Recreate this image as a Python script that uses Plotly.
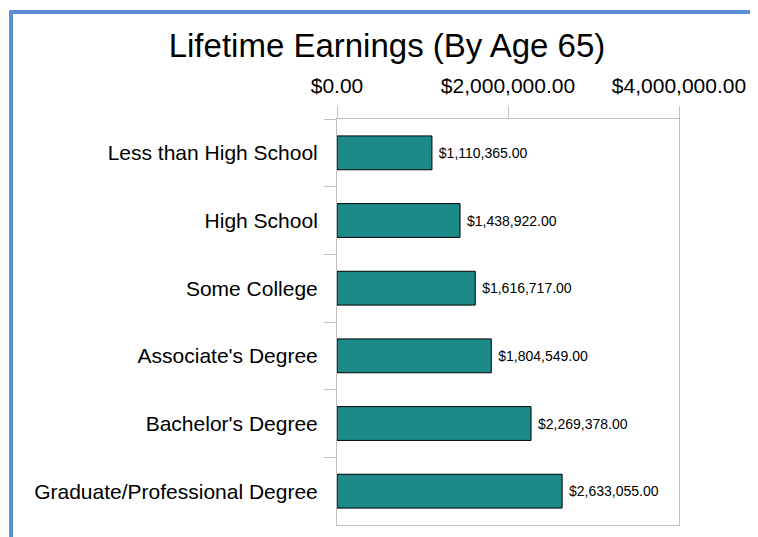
import plotly.graph_objects as go

categories = ["Less than High School", "High School", "Some College",
              "Associate's Degree", "Bachelor's Degree", "Graduate/Professional Degree"]
earnings = [1110365, 1438922, 1616717, 1804549, 2269378, 2633055]
tick_vals = [0, 2000000, 4000000]
tick_text = ["$0.00", "$2,000,000.00", "$4,000,000.00"]

labels = [" ${:,.2f}".format(v) for v in earnings]

fig = go.Figure()
fig.add_trace(go.Bar(
    x=earnings, y=categories, orientation="h",
    width=0.5,
    marker=dict(color="#1b8a89", line=dict(color="#000000", width=1)),
    text=labels, textposition="outside", cliponaxis=False,
    textfont=dict(family="Liberation Sans, Arial", size=14, color="#000000"),
))

grey = "#c0c0c0"
fig.update_xaxes(
    side="top", range=[0, 4000000],
    tickvals=tick_vals, ticktext=tick_text,
    showgrid=False, zeroline=False,
    showline=True, linecolor=grey, linewidth=1, mirror=True,
    ticks="outside", ticklen=12, tickcolor=grey, tickwidth=1,
    tickfont=dict(family="Liberation Sans, Arial", size=21, color="#000000"),
    ticklabelstandoff=5,
)
fig.update_yaxes(
    autorange="reversed",
    showgrid=False, zeroline=False,
    showline=True, linecolor=grey, linewidth=1, mirror=True,
    ticks="outside", ticklen=12, tickcolor=grey, tickwidth=1,
    tickson="boundaries",
    tickfont=dict(family="Liberation Sans, Arial", size=21, color="#000000"),
    ticklabelstandoff=14,
)

# page has an 8px body margin, so the figure is shrunk by 8px
border = "#5a8fd6"
fig.add_shape(type="line", xref="paper", yref="paper",
              x0=-0.953, x1=1.25, y0=1.2635, y1=1.2635,
              line=dict(color=border, width=4))
fig.add_shape(type="line", xref="paper", yref="paper",
              x0=-0.953, x1=-0.953, y0=1.2685, y1=-0.05,
              line=dict(color=border, width=4))

fig.update_layout(
    width=750, height=529,
    margin=dict(l=329, r=79, t=111, b=12),
    paper_bgcolor="white", plot_bgcolor="white",
    showlegend=False,
    title=dict(text="Lifetime Earnings (By Age 65)", x=0.5053, xanchor="center",
               y=0.930, yanchor="middle", yref="container",
               font=dict(family="Liberation Sans, Arial", size=33, color="#000000")),
)

fig.write_html("out.html")
